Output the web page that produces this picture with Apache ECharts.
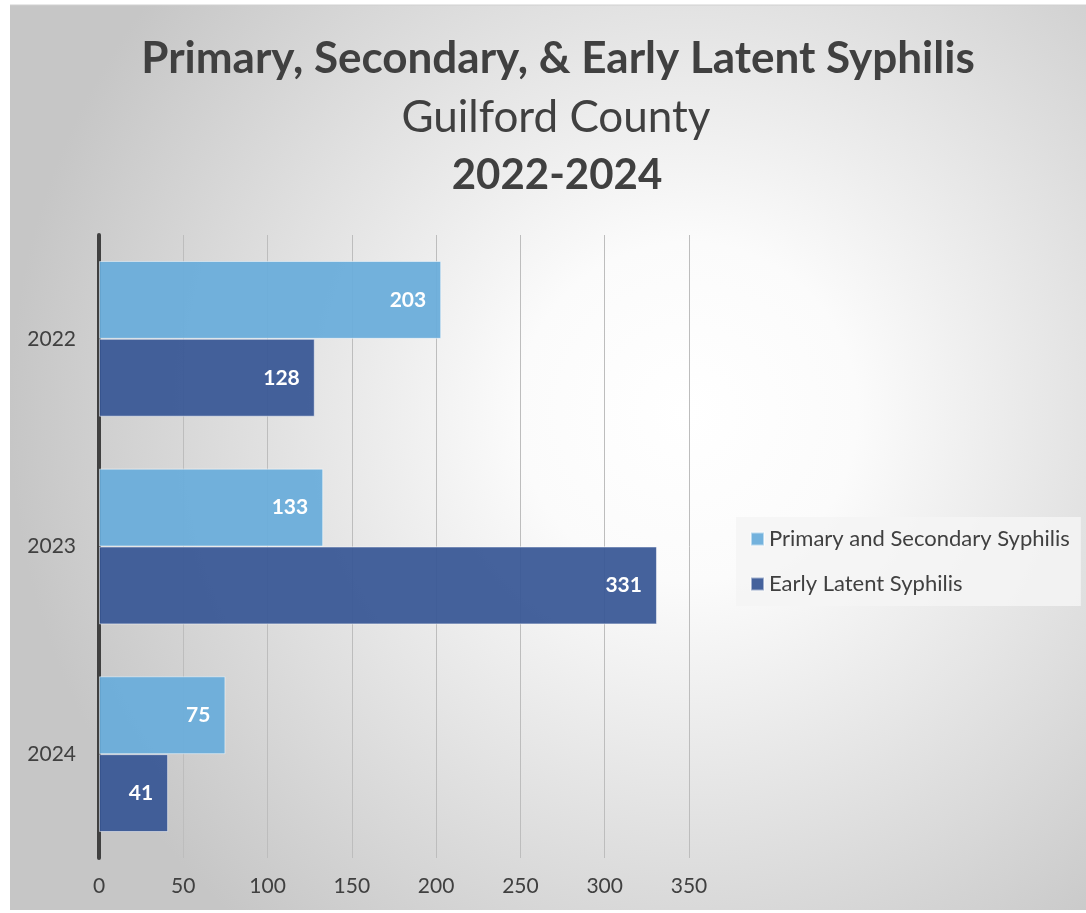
<!DOCTYPE html>
<html><head><meta charset="utf-8">
<script src="https://cdn.jsdelivr.net/npm/echarts@6/dist/echarts.min.js"></script>
<style>html,body{margin:0;padding:0;background:#fff}#c{width:1086px;height:913px}</style>
</head><body><div id="c"></div>
<script>
const categories = ['2022', '2023', '2024'];
const primarySecondary = [203, 133, 75];
const earlyLatent = [128, 331, 41];
const seriesNames = ['Primary and Secondary Syphilis', 'Early Latent Syphilis'];
const xTicks = [0, 50, 100, 150, 200, 250, 300, 350];

const FONT = 'Lato, "Open Sans", sans-serif';
const chart = echarts.init(document.getElementById('c'));
const labelStyle = {show: true, position: 'insideRight', distance: 15, color: '#fff', fontWeight: 'bold', fontSize: 21, fontFamily: FONT};
chart.setOption({
  animation: false,
  graphic: [{
    type: 'rect', z: -10, silent: true,
    shape: {x: 10, y: 5, width: 1076, height: 905},
    style: {fill: new echarts.graphic.RadialGradient(0.63, 0.45, 0.75, [
      {offset: 0, color: '#ffffff'}, {offset: 0.25, color: '#fbfbfb'}, {offset: 1, color: '#c6c6c6'}
    ])}
  }, {
    type: 'line', z: -9, silent: true,
    shape: {x1: 10, y1: 5, x2: 1086, y2: 5},
    style: {stroke: '#d0d0d0', lineWidth: 1}
  }],
  title: [
    {text: 'Primary, Secondary, & Early Latent Syphilis', left: 553, top: 32, textAlign: 'center',
     textStyle: {fontFamily: FONT, fontWeight: 'bold', fontSize: 44, color: '#404040'}},
    {text: 'Guilford County', left: 551, top: 91, textAlign: 'center',
     textStyle: {fontFamily: FONT, fontWeight: 'normal', fontSize: 44, color: '#404040'}},
    {text: '2022-2024', left: 552, top: 149, textAlign: 'center',
     textStyle: {fontFamily: FONT, fontWeight: 'bold', fontSize: 42, color: '#404040'}}
  ],
  legend: {
    orient: 'vertical', left: 736, top: 517, padding: [11, 11, 11, 14],
    backgroundColor: 'rgba(244,244,244,0.85)',
    itemWidth: 13, itemHeight: 13, itemGap: 23, icon: 'rect',
    textStyle: {fontFamily: FONT, fontSize: 22, color: '#404040'},
    data: seriesNames
  },
  grid: {left: 99, top: 235, width: 590, height: 623, containLabel: false},
  xAxis: {
    type: 'value', min: 0, max: 350, interval: 50,
    axisLine: {show: false}, axisTick: {show: false},
    axisLabel: {margin: 18, fontFamily: FONT, fontSize: 21, color: '#404040'},
    splitLine: {show: true, lineStyle: {color: '#bdbdbd', width: 1}}
  },
  yAxis: {
    type: 'category', data: categories, inverse: true,
    axisLine: {show: true, lineStyle: {color: '#404040', width: 4}},
    axisTick: {show: false},
    axisLabel: {margin: 23, fontFamily: FONT, fontSize: 21, color: '#404040'}
  },
  series: [
    {name: seriesNames[0], type: 'bar', data: primarySecondary, barCategoryGap: '25%', barGap: '0%',
     itemStyle: {color: 'rgba(104,172,218,0.93)', borderColor: 'rgba(255,255,255,0.5)', borderWidth: 1},
     label: labelStyle},
    {name: seriesNames[1], type: 'bar', data: earlyLatent, barCategoryGap: '25%', barGap: '0%',
     itemStyle: {color: 'rgba(55,86,149,0.93)', borderColor: 'rgba(255,255,255,0.5)', borderWidth: 1},
     label: labelStyle}
  ]
});
</script></body></html>
